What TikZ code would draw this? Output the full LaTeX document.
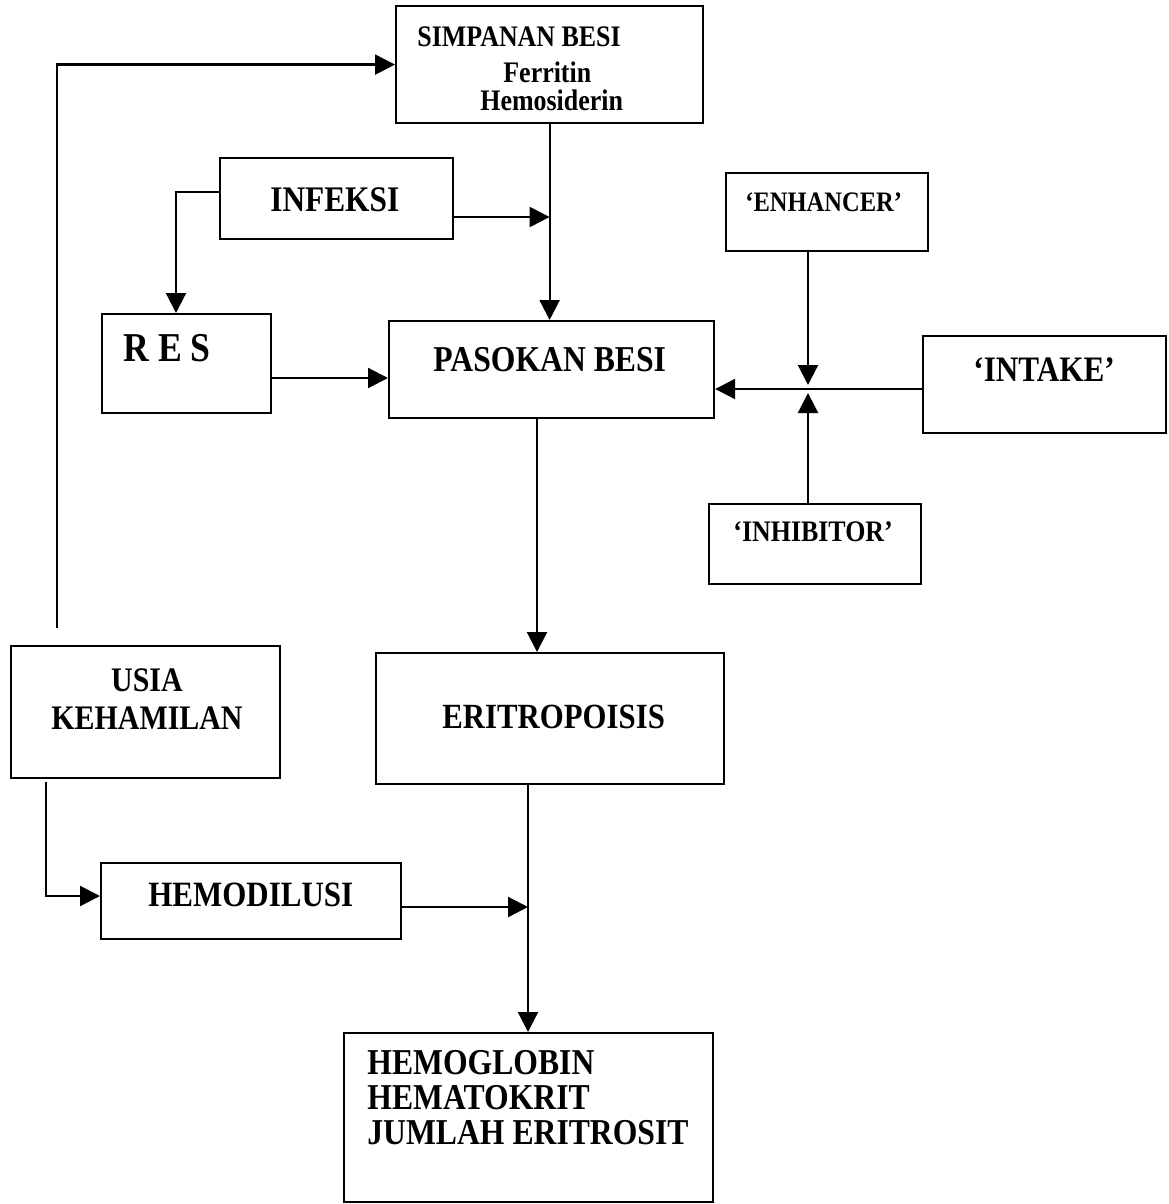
\documentclass[tikz,border=0pt]{standalone}
\usepackage{fontspec}
\setmainfont{Liberation Serif}[FakeStretch=0.87]
\usetikzlibrary{arrows.meta}
\tikzset{
  box/.style={draw, line width=1.1pt, inner sep=0pt, anchor=north west},
  lbl/.style={inner sep=0pt, anchor=west},
  arr/.style={line width=1.1pt, -{Triangle[length=10pt,width=10pt]}},
}
\newcommand{\fs}[1]{\bfseries\fontsize{#1}{#1}\selectfont}
\begin{document}
\begin{tikzpicture}[x=0.5pt,y=-0.5pt]
\useasboundingbox (0,0) rectangle (1168,1204);
% boxes
\node[box,minimum width=153.5pt,minimum height=58.5pt] (simp) at (395,5) {};
\node[box,minimum width=116.5pt,minimum height=40.5pt] (inf) at (219,157) {};
\node[box,minimum width=101pt,minimum height=39pt] (enh) at (725,172) {};
\node[box,minimum width=84.5pt,minimum height=49.5pt] (res) at (101,313) {};
\node[box,minimum width=162.5pt,minimum height=48.5pt] (pas) at (388,320) {};
\node[box,minimum width=121.5pt,minimum height=48.5pt] (intk) at (922,335) {};
\node[box,minimum width=106pt,minimum height=40pt] (inh) at (708,503) {};
\node[box,minimum width=134.5pt,minimum height=66pt] (usia) at (10,645) {};
\node[box,minimum width=174pt,minimum height=65.5pt] (eri) at (375,652) {};
\node[box,minimum width=150pt,minimum height=38pt] (hemod) at (100,862) {};
\node[box,minimum width=184.5pt,minimum height=84.5pt] (hb) at (343,1032) {};
% texts
\node[lbl,font=\fs{14.9}] (tsimp) at (417,37) {SIMPANAN BESI};
\node[lbl,font=\fs{14.9}] (tfer) at (503,72) {Ferritin};
\node[lbl,font=\fs{14.9}] (themo) at (480,100) {Hemosiderin};
\node[lbl,font=\fs{18}] (tinf) at (270,200) {INFEKSI};
\node[lbl,font=\fs{14.1}] (tenh) at (745,202) {‘ENHANCER’};
\node[lbl,font=\fs{20.5}] (tres) at (123,348) {R E S};
\node[lbl,font=\fs{18.2}] (tpas) at (433,360) {PASOKAN BESI};
\node[lbl,font=\fs{17.9}] (tint) at (973,370) {‘INTAKE’};
\node[lbl,font=\fs{14.9}] (tinh) at (733,532) {‘INHIBITOR’};
\node[inner sep=0pt,align=center,font=\bfseries\fontsize{17.2}{19}\selectfont] (tusia) at (147,699) {USIA\\KEHAMILAN};
\node[lbl,font=\fs{17.7}] (teri) at (442,717) {ERITROPOISIS};
\node[lbl,font=\fs{17.8}] (themod) at (148,895) {HEMODILUSI};
\node[inner sep=0pt,align=left,anchor=north west,font=\bfseries\fontsize{18.2}{17.5}\selectfont] (thb) at (367,1050) {HEMOGLOBIN\\HEMATOKRIT\\JUMLAH ERITROSIT};
% connectors
\coordinate (ua) at (57,628);
\draw[arr] (ua) |- (simp.west);
\draw[arr] (simp.south) -- (simp.south |- pas.north);
\coordinate (mi) at (simp.south |- 0,217);
\draw[arr] (inf.east |- 0,217) -- (mi);
\draw[arr] (inf.west |- 0,192) -| (res.north -| 176,0);
\draw[arr] (res.east |- 0,378) -- (pas.west |- 0,378);
\draw[arr] (intk.west |- 0,389) -- (pas.east |- 0,389);
\coordinate (jt) at (808,385);
\coordinate (jb) at (808,393);
\draw[arr] (enh.south -| 808,0) -- (jt);
\draw[arr] (inh.north -| 808,0) -- (jb);
\draw[arr] (pas.south -| 537,0) -- (eri.north -| 537,0);
\draw[arr] (eri.south -| 528,0) -- (hb.north -| 528,0);
\coordinate (ub) at (46,782);
\draw[arr] (ub) |- (hemod.west |- 0,896);
\coordinate (mh) at (528,907);
\draw[arr] (hemod.east |- 0,907) -- (mh);
\end{tikzpicture}
\end{document}
